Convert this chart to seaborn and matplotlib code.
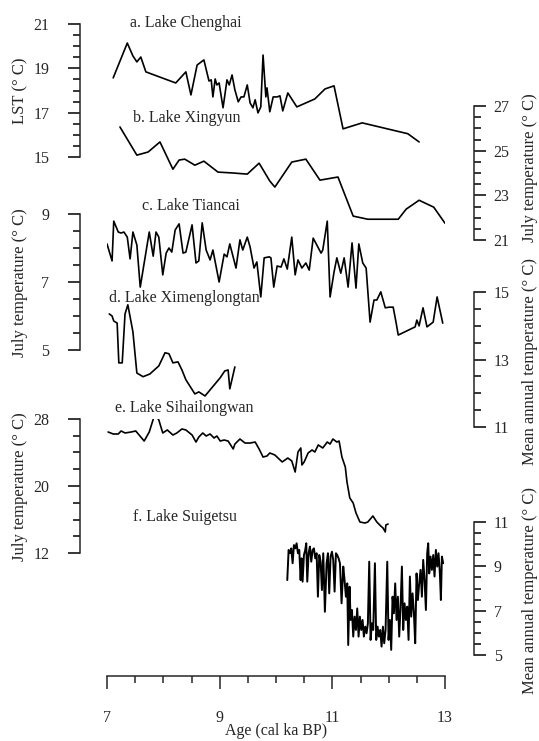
"""
Holocene temperature records from six lakes, stacked on one age axis.
Each record has its own y scale, alternating left / right.
"""

import numpy as np
import pandas as pd
import matplotlib
matplotlib.use('Agg')
import matplotlib.pyplot as plt
import seaborn as sns

# a. Lake Chenghai (LST)
chenghai_age = [7.11, 7.36, 7.46, 7.53, 7.60, 7.69, 8.22, 8.40, 8.49, 8.60, 8.72, 8.81, 8.85,
                8.88, 8.92, 8.95, 8.99, 9.06, 9.13, 9.17, 9.22, 9.27, 9.33, 9.38, 9.43, 9.49,
                9.54, 9.59, 9.63, 9.68, 9.73, 9.77, 9.82, 9.84, 9.89, 9.95, 10.02, 10.07,
                10.12, 10.21, 10.37, 10.69, 10.87, 11.03, 11.19, 11.53, 12.34, 12.54]
chenghai_val = [18.57, 20.14, 19.56, 19.29, 19.51, 18.84, 18.34, 18.84, 17.80, 19.15, 19.38,
                18.43, 18.48, 17.71, 18.52, 18.25, 18.34, 17.22, 18.48, 18.25, 18.70, 18.03,
                17.49, 17.71, 17.71, 18.25, 17.44, 17.22, 17.58, 16.99, 17.26, 19.60, 17.71,
                18.12, 17.04, 17.71, 17.71, 17.76, 17.08, 17.89, 17.26, 17.62, 18.07, 18.21,
                16.27, 16.54, 16.05, 15.68]

# b. Lake Xingyun (July temperature)
xingyun_age = [7.23, 7.53, 7.73, 7.94, 8.17, 8.28, 8.38, 8.56, 8.72, 8.97, 9.24, 9.49, 9.70,
               9.89, 9.98, 10.28, 10.53, 10.78, 11.10, 11.37, 11.63, 12.17, 12.31, 12.54,
               12.80, 13.00]
xingyun_val = [26.06, 24.80, 24.94, 25.39, 24.17, 24.58, 24.62, 24.35, 24.53, 24.04, 24.00,
               23.95, 24.44, 23.64, 23.37, 24.49, 24.62, 23.68, 23.82, 22.07, 21.93, 21.93,
               22.38, 22.78, 22.47, 21.75]

# c. Lake Tiancai (July temperature)
tiancai_age = [7.00, 7.09, 7.12, 7.20, 7.25, 7.30, 7.36, 7.41, 7.46, 7.53, 7.59, 7.75, 7.82,
               7.87, 7.92, 7.99, 8.05, 8.10, 8.15, 8.21, 8.28, 8.35, 8.40, 8.51, 8.58, 8.63,
               8.69, 8.76, 8.83, 8.88, 8.99, 9.08, 9.13, 9.18, 9.29, 9.36, 9.41, 9.49, 9.54,
               9.61, 9.66, 9.73, 9.79, 9.88, 9.91, 9.96, 10.02, 10.09, 10.14, 10.20, 10.28,
               10.34, 10.39, 10.46, 10.53, 10.59, 10.66, 10.80, 10.83, 10.91, 10.96, 11.03,
               11.08, 11.15, 11.21, 11.28, 11.35, 11.42, 11.47, 11.54, 11.60, 11.67, 11.74,
               11.79, 11.86, 11.94, 12.01, 12.08, 12.13, 12.17, 12.47, 12.50, 12.54, 12.61,
               12.68, 12.79, 12.86, 12.96]
tiancai_val = [8.12, 7.62, 8.79, 8.47, 8.44, 8.47, 8.32, 7.68, 8.47, 8.09, 6.85, 8.47, 7.76,
               8.47, 8.32, 7.21, 7.85, 8.00, 7.88, 8.53, 8.71, 7.85, 7.88, 8.68, 7.56, 7.62,
               8.74, 7.94, 7.65, 7.94, 7.00, 7.82, 7.74, 8.12, 7.41, 8.24, 7.94, 8.32, 8.03,
               7.41, 7.59, 6.56, 7.71, 7.74, 7.71, 6.85, 7.47, 7.44, 7.68, 7.38, 8.32, 7.21,
               7.65, 7.41, 7.56, 7.35, 8.29, 7.85, 7.94, 8.79, 6.56, 7.29, 7.71, 7.26, 7.71,
               6.85, 8.15, 6.82, 8.12, 7.56, 7.41, 5.82, 6.47, 6.47, 6.71, 6.24, 6.26, 6.26,
               5.82, 5.44, 5.68, 5.88, 5.71, 6.24, 5.68, 5.82, 6.56, 5.79]

# d. Lake Ximenglongtan (mean annual temperature)
ximeng_age = [7.04, 7.09, 7.12, 7.18, 7.21, 7.27, 7.32, 7.37, 7.46, 7.53, 7.64, 7.76, 7.92,
              8.03, 8.10, 8.17, 8.26, 8.33, 8.40, 8.56, 8.63, 8.74, 8.86, 9.01, 9.09, 9.15,
              9.18, 9.27]
ximeng_val = [14.35, 14.29, 14.14, 14.08, 12.90, 12.90, 14.35, 14.62, 13.82, 12.60, 12.49,
              12.57, 12.81, 13.20, 13.17, 12.90, 12.93, 12.69, 12.40, 11.98, 12.04, 11.92,
              12.16, 12.46, 12.66, 12.69, 12.13, 12.78]

# e. Lake Sihailongwan (July temperature)
sihai_age = [7.02, 7.11, 7.20, 7.25, 7.32, 7.43, 7.51, 7.66, 7.75, 7.85, 7.92, 7.99, 8.07,
             8.17, 8.24, 8.33, 8.40, 8.51, 8.58, 8.63, 8.70, 8.76, 8.83, 8.90, 8.95, 9.01,
             9.08, 9.15, 9.24, 9.27, 9.36, 9.45, 9.54, 9.63, 9.70, 9.77, 9.84, 9.89, 9.98,
             10.11, 10.21, 10.28, 10.34, 10.39, 10.44, 10.46, 10.50, 10.57, 10.64, 10.69,
             10.75, 10.83, 10.91, 10.96, 11.01, 11.08, 11.12, 11.17, 11.23, 11.26, 11.31,
             11.37, 11.42, 11.49, 11.58, 11.63, 11.72, 11.79, 11.86, 11.90, 11.94, 11.95,
             11.99]
sihai_val = [26.45, 26.21, 26.21, 26.57, 26.33, 26.45, 26.57, 25.37, 26.45, 28.60, 27.88,
             26.33, 26.69, 26.09, 26.33, 26.81, 26.69, 26.09, 25.25, 25.85, 26.33, 25.97,
             26.21, 25.73, 25.97, 25.37, 25.49, 25.37, 24.42, 25.01, 25.61, 25.13, 25.13,
             25.25, 24.42, 23.46, 23.58, 23.94, 23.70, 22.87, 23.34, 22.99, 21.67, 24.06,
             24.54, 22.51, 22.87, 23.94, 24.30, 24.06, 24.90, 24.54, 25.25, 25.01, 25.61,
             25.25, 25.37, 23.46, 22.27, 20.48, 18.57, 17.97, 16.78, 15.70, 15.58, 15.70,
             16.42, 15.70, 15.22, 14.99, 14.51, 15.34, 15.46]

# f. Lake Suigetsu (mean annual temperature)
suigetsu_age = [10.200, 10.224, 10.247, 10.271, 10.295, 10.318, 10.342, 10.366, 10.389,
                10.413, 10.437, 10.454, 10.472, 10.496, 10.519, 10.537, 10.555, 10.579,
                10.602, 10.626, 10.650, 10.673, 10.697, 10.721, 10.744, 10.768, 10.792,
                10.815, 10.839, 10.868, 10.898, 10.922, 10.945, 10.969, 10.993, 11.016,
                11.040, 11.064, 11.087, 11.111, 11.135, 11.164, 11.194, 11.217, 11.241,
                11.265, 11.282, 11.306, 11.324, 11.348, 11.371, 11.395, 11.419, 11.442,
                11.466, 11.489, 11.513, 11.537, 11.560, 11.584, 11.608, 11.631, 11.655,
                11.679, 11.702, 11.726, 11.756, 11.779, 11.803, 11.827, 11.850, 11.874,
                11.898, 11.921, 11.945, 11.975, 11.998, 12.022, 12.045, 12.069, 12.093,
                12.116, 12.140, 12.164, 12.187, 12.211, 12.235, 12.258, 12.282, 12.306,
                12.329, 12.353, 12.377, 12.400, 12.424, 12.448, 12.471, 12.495, 12.519,
                12.542, 12.566, 12.590, 12.613, 12.637, 12.661, 12.684, 12.702, 12.720,
                12.743, 12.767, 12.791, 12.814, 12.838, 12.862, 12.885, 12.909, 12.927,
                12.945, 12.968]
suigetsu_val = [8.38, 9.74, 9.59, 9.81, 9.14, 9.96, 9.81, 10.04, 9.59, 9.74, 8.38, 9.36,
                8.31, 9.51, 9.74, 10.04, 8.31, 9.59, 9.89, 9.21, 9.74, 9.81, 9.36, 9.59,
                7.63, 9.51, 9.21, 7.93, 9.59, 6.95, 9.14, 9.59, 7.78, 9.44, 9.66, 9.29,
                7.86, 9.59, 9.51, 9.36, 9.14, 7.33, 8.99, 8.38, 7.63, 8.23, 5.45, 8.08,
                6.58, 7.03, 5.83, 6.73, 6.13, 7.10, 5.83, 6.73, 6.13, 6.58, 5.83, 6.28,
                5.98, 6.43, 9.21, 5.68, 6.43, 6.13, 9.14, 5.68, 6.28, 5.83, 6.13, 5.38,
                6.28, 5.53, 6.13, 9.21, 5.68, 6.58, 5.23, 7.63, 6.88, 8.23, 6.58, 7.63,
                5.83, 7.18, 8.99, 6.13, 7.33, 6.58, 7.18, 5.68, 8.54, 6.73, 7.78, 6.88,
                5.53, 8.68, 7.48, 8.23, 8.84, 7.63, 9.29, 8.38, 7.03, 9.59, 10.04, 8.68,
                9.44, 8.84, 9.51, 8.54, 9.74, 8.99, 9.59, 8.68, 7.48, 9.44, 9.14]

W, H = 539, 741
X0, X1 = 107, 445   # pixel columns of age 7 and 13

sns.set_style('ticks')
plt.rcParams['font.family'] = ['Liberation Serif', 'DejaVu Serif']
plt.rcParams['axes.linewidth'] = 1.1

TICK_FS = 11.5
LABEL_FS = 12
TITLE_FS = 11.5


def rect(top, bot):
    return [X0 / W, 1 - bot / H, (X1 - X0) / W, (bot - top) / H]


def record_axes(fig, top, bot, lo, hi, major, minor, side):
    ax = fig.add_axes(rect(top, bot))
    ax.set_facecolor('none')
    ax.set_xlim(7, 13)
    ax.set_ylim(lo, hi)
    for s in ['top', 'bottom']:
        ax.spines[s].set_visible(False)
    ax.set_xticks([])
    ax.set_yticks(major)
    ax.set_yticks(minor, minor=True)
    if side == 'left':
        ax.spines['right'].set_visible(False)
        ax.spines['left'].set_position(('outward', 27 * 0.72))
        pad = 13.5
    else:
        ax.spines['left'].set_visible(False)
        ax.spines['right'].set_visible(True)
        ax.spines['right'].set_position(('outward', 29 * 0.72))
        ax.yaxis.tick_right()
        pad = 5.5
    ax.tick_params(axis='y', which='major', length=8.6, width=1.1, pad=pad,
                   labelsize=TICK_FS, color='black')
    ax.tick_params(axis='y', which='minor', length=5, width=1.1, color='black')
    return ax


def draw(ax, age, val, lw=1.2):
    df = pd.DataFrame({'age': age, 'val': val})
    sns.lineplot(data=df, x='age', y='val', ax=ax, color='black', linewidth=lw,
                 sort=False, estimator=None)
    ax.set_xlabel('')
    ax.set_ylabel('')


fig = plt.figure(figsize=(W / 100, H / 100), dpi=100)

ax_a = record_axes(fig, 24, 157, 15, 21, [15, 17, 19, 21], np.arange(15, 21.01, 0.5), 'left')
draw(ax_a, chenghai_age, chenghai_val)

ax_b = record_axes(fig, 106, 240, 21, 27, [21, 23, 25, 27], np.arange(21, 27.01, 0.5), 'right')
draw(ax_b, xingyun_age, xingyun_val)

ax_c = record_axes(fig, 214, 350, 5, 9, [5, 7, 9], np.arange(5, 9.01, 0.5), 'left')
draw(ax_c, tiancai_age, tiancai_val)

ax_d = record_axes(fig, 292, 427, 11, 15, [11, 13, 15], np.arange(11, 15.01, 0.5), 'right')
draw(ax_d, ximeng_age, ximeng_val)

ax_e = record_axes(fig, 419, 553, 12, 28, [12, 20, 28], np.arange(12, 28.01, 2), 'left')
draw(ax_e, sihai_age, sihai_val)

ax_f = record_axes(fig, 522, 655, 5, 11, [5, 7, 9, 11], np.arange(5, 11.01, 0.5), 'right')
draw(ax_f, suigetsu_age, suigetsu_val, lw=1.4)

# shared age axis at the bottom
ax_x = fig.add_axes([X0 / W, 1 - 676 / H, (X1 - X0) / W, 0.001])
ax_x.set_facecolor('none')
for s in ['top', 'left', 'right']:
    ax_x.spines[s].set_visible(False)
ax_x.set_xlim(7, 13)
ax_x.set_yticks([])
ax_x.set_xticks([7, 9, 11, 13])
ax_x.set_xticks(np.arange(7, 13.01, 0.5), minor=True)
ax_x.tick_params(axis='x', which='major', length=9.4, width=1.1, pad=15, labelsize=TICK_FS)
ax_x.tick_params(axis='x', which='minor', length=5, width=1.1)

# panel names
titles = [('a. Lake Chenghai', 130, 27), ('b. Lake Xingyun', 133, 122),
          ('c. Lake Tiancai', 142, 210), ('d. Lake Ximenglongtan', 109, 302),
          ('e. Lake Sihailongwan', 115, 412), ('f. Lake Suigetsu', 133, 521)]
for txt, px, py in titles:
    fig.text(px / W, 1 - py / H, txt, ha='left', va='baseline', fontsize=TITLE_FS)

# axis names
ylabels = [('LST (° C)', 20, 91), ('July temperature (° C)', 20, 283),
           ('July temperature (° C)', 20, 487), ('July temperature (° C)', 530, 168),
           ('Mean annual temperature (° C)', 530, 362),
           ('Mean annual temperature (° C)', 530, 590)]
for txt, px, py in ylabels:
    fig.text(px / W, 1 - py / H, txt, ha='center', va='center', rotation=90,
             fontsize=LABEL_FS)

fig.text(276 / W, 1 - 731 / H, 'Age (cal ka BP)', ha='center', va='center', fontsize=11.5)

fig.savefig('out.png', dpi=100)
